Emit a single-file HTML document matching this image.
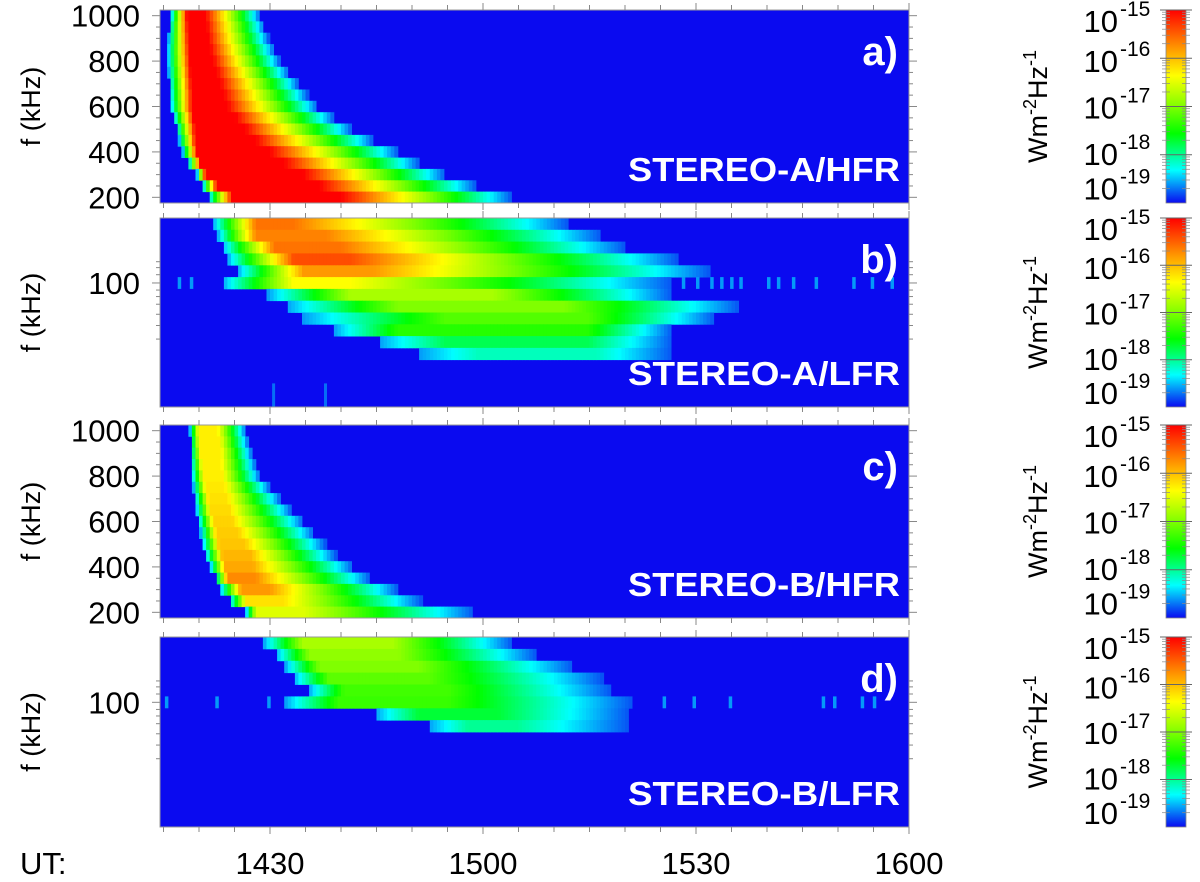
<!DOCTYPE html>
<html><head><meta charset="utf-8"><style>
html,body{margin:0;padding:0;background:#fff;}
svg{display:block;font-family:"Liberation Sans",sans-serif;}
</style></head><body>
<svg id="chart" width="1200" height="882" viewBox="0 0 1200 882" xmlns="http://www.w3.org/2000/svg">
<defs>
<linearGradient id="cmap" x1="0" y1="1" x2="0" y2="0">
<stop offset="0" stop-color="#0a0af0"/><stop offset="0.17" stop-color="#00ffff"/><stop offset="0.36" stop-color="#00ff00"/><stop offset="0.5" stop-color="#80ff00"/><stop offset="0.66" stop-color="#ffff00"/><stop offset="0.8" stop-color="#ff9900"/><stop offset="1" stop-color="#ff0000"/>
</linearGradient>
</defs>
<g id="layer"></g>
</svg>
<script>
// ---- data: per-row onset / peak start / peak end / end times (minutes after 14:00 UT) ----
const aOnset=[16.0,15.8,15.7,15.6,15.6,15.7,15.8,15.9,16.0,16.4,16.8,17.2,17.7,18.5,19.7,20.5,21.3];
const aPeakStart=[18.3,18.4,18.5,18.6,18.7,18.8,18.9,19.0,19.0,19.2,19.4,19.5,19.7,20.2,20.9,22.5,24.7];
const aPeakEnd=[20.9,21.1,21.3,21.6,22.0,22.5,23.0,23.5,24.0,25.2,26.5,28.0,30.0,32.0,34.7,37.0,40.0];
const aEnd=[28.6,29.2,29.8,30.6,31.4,32.6,34.0,35.3,36.7,39.0,41.5,44.5,48.0,51.0,54.7,59.0,64.0];
const aPeak=[1,1,1,1,1,1,1,1,1,1,1,1,1,1,1,1,1];

const bOnset=[22.0,22.6,23.3,24.0,25.4,23.3,29.7,32.3,34.7,39.0,45.3,51.0];
const bPeakStart=[28.0,28.0,30.6,33.3,34.7,33.3,41.3,48.0,54.7,48.0,54.7,59.3];
const bPeakEnd=[33.3,37.9,40.0,41.3,44.6,41.3,61.4,71.4,74.7,74.7,74.7,76.0];
const bEnd=[72.0,76.7,80.0,87.4,92.0,86.7,86.7,96.1,92.7,86.7,86.7,86.7];
const bPeak=[0.85,0.83,0.85,0.9,0.8,0.66,0.55,0.5,0.45,0.4,0.3,0.22];
const bNoise=[17.0,18.7,88.0,90.0,92.0,93.4,94.8,96.1,100.0,101.4,103.5,106.7,112.0,114.6,117.4];
const bSpikes=[30.3,37.6];

const cOnset=[18.7,18.8,18.8,18.9,19.0,19.2,19.4,19.6,19.9,20.2,20.5,20.9,21.6,22.3,23.0,24.3,26.6];
const cPeakStart=[19.9,20.0,20.2,20.4,20.6,20.9,21.3,21.6,22.0,22.4,22.8,23.3,23.6,24.0,25.9,26.6,28.0];
const cPeakEnd=[22.6,22.8,23.0,23.1,23.3,23.6,24.0,24.3,24.7,25.5,26.4,27.3,27.6,28.0,30.0,31.9,34.7];
const cEnd=[26.6,27.0,27.5,28.0,28.6,30.0,31.5,33.0,34.7,36.2,37.8,39.3,41.7,44.1,48.0,51.3,58.7];
const cPeak=[0.68,0.68,0.68,0.68,0.68,0.69,0.7,0.71,0.72,0.73,0.74,0.76,0.78,0.82,0.8,0.7,0.62];

const dOnset=[29.1,30.8,32.1,33.3,35.4,32.1,44.8,52.3];
const dPeakStart=[34.6,35.6,37.0,38.3,40.4,39.7,50.9,57.9];
const dPeakEnd=[47.3,48.1,50.9,52.3,55.1,55.1,62.1,64.8];
const dEnd=[64.1,67.5,72.7,76.8,78.1,81.0,80.6,80.6];
const dPeak=[0.55,0.52,0.5,0.46,0.43,0.42,0.32,0.25];
const dNoise=[15.2,22.3,29.6,85.3,89.5,94.6,107.7,109.3,113.2,114.9];

const timeTicks=[30,60,90,120];
const timeTickLabels=["1430","1500","1530","1600"];
const hfrTicks=[1000,800,600,400,200];
const cbarLabels=["-15","-16","-17","-18","-19"];

// ---- layout ----
const NS="http://www.w3.org/2000/svg";
const L=document.getElementById('layer');
const X0=160,X1=909;
const xScale=t=>909-(120-t)*7.1;
const BG="#0a0af0";
const stops=[[0,[10,10,240]],[0.17,[0,255,255]],[0.36,[0,255,0]],[0.5,[128,255,0]],[0.66,[255,255,0]],[0.8,[255,153,0]],[1,[255,0,0]]];
function cmap(v){v=Math.max(0,Math.min(1,v));for(let i=1;i<stops.length;i++){if(v<=stops[i][0]){const a=stops[i-1],b=stops[i];const f=(v-a[0])/(b[0]-a[0]);const c=a[1].map((x,k)=>Math.round(x+(b[1][k]-x)*f));return `rgb(${c[0]},${c[1]},${c[2]})`;}}return "rgb(255,0,0)";}
function mk(tag,attrs,parent){const e=document.createElementNS(NS,tag);for(const k in attrs)e.setAttribute(k,attrs[k]);(parent||L).appendChild(e);return e;}
function level(t,o,p0,p1,e,pk){
  if(t<o||t>e)return null;
  if(t<p0)return 0.1+(pk-0.1)*(t-o)/(p0-o);
  if(t<=p1)return pk;
  return pk+(0.05-pk)*(t-p1)/(e-p1);
}
const panels=[
 {key:'a',top:10,bot:203,rows:17,on:aOnset,p0:aPeakStart,p1:aPeakEnd,en:aEnd,pk:aPeak,lab:'a)',name:'STEREO-A/HFR',hfr:true},
 {key:'b',top:218,bot:407,rows:16,on:bOnset,p0:bPeakStart,p1:bPeakEnd,en:bEnd,pk:bPeak,noise:bNoise,spikes:bSpikes,lab:'b)',name:'STEREO-A/LFR',hfr:false},
 {key:'c',top:425,bot:618,rows:17,on:cOnset,p0:cPeakStart,p1:cPeakEnd,en:cEnd,pk:cPeak,lab:'c)',name:'STEREO-B/HFR',hfr:true},
 {key:'d',top:637,bot:827,rows:16,on:dOnset,p0:dPeakStart,p1:dPeakEnd,en:dEnd,pk:dPeak,noise:dNoise,lab:'d)',name:'STEREO-B/LFR',hfr:false}
];
const dt=0.5;
panels.forEach(P=>{
  const g=mk('g',{});
  
  
  const bg=mk('rect',{x:X0,y:P.top,width:X1-X0,height:P.bot-P.top,fill:BG},g);
  
  
  const rh=(P.bot-P.top)/P.rows;
  for(let r=0;r<P.on.length;r++){
    const y=P.top+r*rh;
    for(let t=14.5;t<120;t+=dt){
      const v=level(t+dt/2,P.on[r],P.p0[r],P.p1[r],P.en[r],P.pk[r]);
      if(v===null)continue;
      const x=xScale(t);
      const c=mk('rect',{x:x.toFixed(1),y:y.toFixed(1),width:(xScale(t+dt)-x+0.4).toFixed(1),height:(rh+0.4).toFixed(1),fill:cmap(v)},g);
      
      
    }
  }
  if(P.noise){const y=P.top+5*rh;P.noise.forEach(t=>{
    const c=mk('rect',{x:xScale(t).toFixed(1),y:y.toFixed(1),width:3.5,height:rh.toFixed(1),fill:cmap(0.1)},g);
    
    });}
  if(P.spikes){P.spikes.forEach(t=>{
    const c=mk('rect',{x:xScale(t).toFixed(1),y:(P.top+14*rh).toFixed(1),width:3,height:(2*rh).toFixed(1),fill:cmap(0.07)},g);
    
    });}
  const fr=mk('rect',{x:X0,y:P.top,width:X1-X0,height:P.bot-P.top,fill:'none',stroke:'#999','stroke-width':1},g);
  
  
  for(let t=15;t<=120;t+=5){
    const x=xScale(t);
    const len=(t%30===0)?7:5;
    mk('line',{x1:x,x2:x,y1:P.top,y2:P.top-len,stroke:'#888','stroke-width':1},g);
    mk('line',{x1:x,x2:x,y1:P.bot,y2:P.bot+len,stroke:'#888','stroke-width':1},g);
  }
  const yl=mk('text',{x:0,y:0,'font-size':27,fill:'#000','text-anchor':'middle',transform:`translate(40,${(P.top+P.bot)/2}) rotate(-90)`},g);
  yl.textContent='f (kHz)';
  
  
  if(P.hfr){
    const fy=f=>P.top+rh*((1000-f)/50+0.5);
    for(let f=200;f<=1000;f+=50){const y=fy(f);mk('line',{x1:X0,x2:X0-(f%200===0?8:4),y1:y,y2:y,stroke:'#888'},g);mk('line',{x1:X1,x2:X1+(f%200===0?8:4),y1:y,y2:y,stroke:'#888'},g);}
    hfrTicks.forEach(f=>{const t=mk('text',{x:140,y:fy(f)+11,'font-size':31,'text-anchor':'end',fill:'#000'},g);t.textContent=String(f);
      
      });
  } else {
    const y100=P.top+rh*5.5;
    [-3.6,-2.6,-1.4,0,1.2,2.3,3.6,5.3,7.2,9.5].forEach(k=>{const y=y100+k*rh*0.5;if(y<P.top||y>P.bot)return;mk('line',{x1:X0,x2:X0-(k===0?8:4),y1:y,y2:y,stroke:'#888'},g);mk('line',{x1:X1,x2:X1+(k===0?8:4),y1:y,y2:y,stroke:'#888'},g);});
    const t=mk('text',{x:140,y:y100+11,'font-size':31,'text-anchor':'end',fill:'#000'},g);t.textContent='100';
    
    
  }
  const pl=mk('text',{x:898,y:P.top+55,'font-size':40,'font-weight':'bold','text-anchor':'end',fill:'#fff'},g);pl.textContent=P.lab;
  
  
  const nm=mk('text',{x:628,y:P.bot-22,'font-size':33,'font-weight':'bold',fill:'#fff',textLength:272,lengthAdjust:'spacingAndGlyphs'},g);nm.textContent=P.name;
  
  
  const cb=mk('g',{});
  
  
  const h=P.bot-P.top;
  mk('rect',{x:1166,y:P.top,width:20,height:h,fill:'url(#cmap)',stroke:'#888','stroke-width':0.8},cb);
  const dec=h*0.25;
  for(let d=0;d<4;d++){const y0=P.top+d*dec;mk('line',{x1:1160,x2:1192,y1:y0,y2:y0,stroke:'#666'},cb);
    for(let m=2;m<10;m++){const y=y0+dec-dec*Math.log10(m);mk('line',{x1:1162,x2:1170,y1:y,y2:y,stroke:'#888','stroke-width':0.7},cb);mk('line',{x1:1182,x2:1190,y1:y,y2:y,stroke:'#888','stroke-width':0.7},cb);}}
  const lys=[P.top+10,P.top+h*0.26,P.top+h*0.5,P.top+h*0.74,P.top+h*0.92];
  cbarLabels.forEach((s,i)=>{const t=mk('text',{x:1118,y:lys[i]+12,'font-size':31,'text-anchor':'end',fill:'#000'},cb);t.textContent='10';
    
    
    const e=mk('text',{x:1120,y:lys[i]-4,'font-size':21,fill:'#000'},cb);e.textContent=s;
    
    });
  const ut=mk('text',{x:0,y:0,'font-size':27,fill:'#000','text-anchor':'middle',transform:`translate(1047,${(P.top+P.bot)/2}) rotate(-90)`},cb);
  ut.innerHTML='Wm<tspan dy="-11" font-size="18">-2</tspan><tspan dy="11">Hz</tspan><tspan dy="-11" font-size="18">-1</tspan>';
  
  
});
const ax=mk('g',{});


const u=mk('text',{x:20,y:874,'font-size':31,fill:'#000'},ax);u.textContent='UT:';


timeTicks.forEach((t,i)=>{const e=mk('text',{x:xScale(t),y:874,'font-size':31,'text-anchor':'middle',fill:'#000'},ax);e.textContent=timeTickLabels[i];
  
  });
</script>
</body></html>
